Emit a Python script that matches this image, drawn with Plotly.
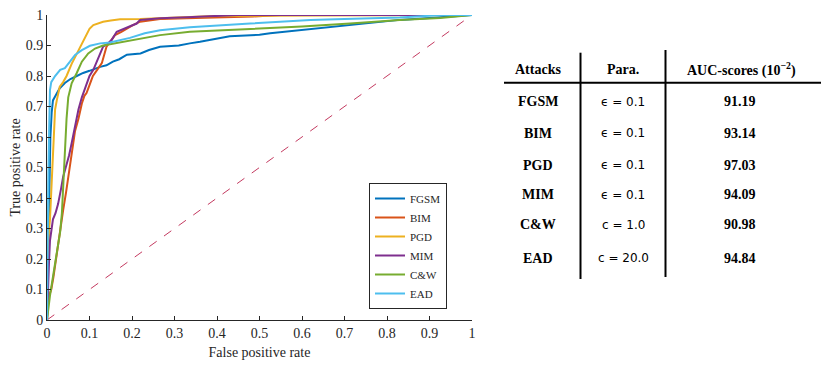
import plotly.graph_objects as go

W, H = 830, 367

names = ["FGSM", "BIM", "PGD", "MIM", "C&W", "EAD"]
colors = ["#0072BD", "#D95319", "#EDB120", "#7E2F8E", "#77AC30", "#4DBEEE"]

fgsm_fpr = [0, 0.002, 0.004, 0.006, 0.008, 0.011, 0.014, 0.02, 0.023, 0.03, 0.042, 0.055, 0.07, 0.085, 0.10,
            0.125, 0.14, 0.155, 0.17, 0.188, 0.22, 0.24, 0.266, 0.31, 0.336, 0.36, 0.43, 0.5, 0.525, 0.595,
            0.62, 0.69, 0.76, 0.83, 0.9, 0.97, 1.0]
fgsm_tpr = [0, 0.15, 0.35, 0.5, 0.6, 0.68, 0.72, 0.735, 0.744, 0.76, 0.777, 0.79, 0.80, 0.81, 0.817,
            0.83, 0.835, 0.847, 0.855, 0.87, 0.874, 0.885, 0.896, 0.90, 0.907, 0.912, 0.93, 0.935, 0.94, 0.95,
            0.956, 0.965, 0.975, 0.984, 0.99, 0.997, 1.0]

bim_fpr = [0, 0.002, 0.005, 0.01, 0.015, 0.02, 0.025, 0.03, 0.038, 0.045, 0.05, 0.058, 0.066, 0.074, 0.082,
           0.088, 0.093, 0.1, 0.108, 0.118, 0.129, 0.14, 0.15, 0.16, 0.175, 0.188, 0.2, 0.219, 0.24, 0.266,
           0.35, 0.485, 0.55, 1.0]
bim_tpr = [0, 0.05, 0.08, 0.1, 0.14, 0.19, 0.24, 0.29, 0.36, 0.42, 0.47, 0.547, 0.62, 0.66, 0.71,
           0.735, 0.744, 0.77, 0.80, 0.82, 0.842, 0.896, 0.915, 0.934, 0.945, 0.956, 0.965, 0.978, 0.983, 0.987,
           0.99, 0.995, 1.0, 1.0]

pgd_fpr = [0, 0.001, 0.003, 0.005, 0.007, 0.01, 0.013, 0.016, 0.019, 0.023, 0.03, 0.038, 0.046, 0.058,
           0.07, 0.082, 0.093, 0.1, 0.109, 0.12, 0.132, 0.15, 0.172, 0.219, 0.29, 0.4, 1.0]
pgd_tpr = [0, 0.15, 0.25, 0.3, 0.33, 0.42, 0.52, 0.61, 0.69, 0.72, 0.765, 0.78, 0.80, 0.84,
           0.874, 0.907, 0.94, 0.955, 0.967, 0.972, 0.978, 0.982, 0.986, 0.987, 0.99, 0.997, 1.0]

mim_fpr = [0, 0.002, 0.005, 0.007, 0.014, 0.020, 0.026, 0.033, 0.038, 0.046, 0.052, 0.058, 0.064, 0.07,
           0.074, 0.082, 0.093, 0.1, 0.109, 0.121, 0.132, 0.142, 0.152, 0.164, 0.184, 0.211, 0.219, 0.266,
           0.33, 0.42, 0.45, 1.0]
mim_tpr = [0, 0.1, 0.2, 0.26, 0.33, 0.35, 0.38, 0.43, 0.47, 0.51, 0.54, 0.58, 0.62, 0.667,
           0.69, 0.73, 0.776, 0.8, 0.82, 0.863, 0.896, 0.905, 0.918, 0.945, 0.956, 0.972, 0.984, 0.989,
           0.993, 0.998, 1.0, 1.0]

cw_fpr = [0, 0.002, 0.007, 0.015, 0.023, 0.031, 0.035, 0.038, 0.042, 0.046, 0.05, 0.058, 0.07, 0.082,
          0.097, 0.113, 0.132, 0.155, 0.18, 0.219, 0.266, 0.336, 0.407, 0.51, 0.6, 0.713, 0.83, 0.925, 1.0]
cw_tpr = [0, 0.03, 0.08, 0.15, 0.22, 0.29, 0.35, 0.45, 0.557, 0.66, 0.73, 0.776, 0.81, 0.847,
          0.874, 0.89, 0.90, 0.906, 0.912, 0.923, 0.934, 0.945, 0.95, 0.955, 0.962, 0.972, 0.984, 0.99, 1.0]

ead_fpr = [0, 0.001, 0.003, 0.005, 0.007, 0.01, 0.019, 0.031, 0.042, 0.054, 0.066, 0.082, 0.101, 0.125,
           0.148, 0.195, 0.23, 0.266, 0.336, 0.478, 0.548, 0.62, 0.7, 0.83, 0.93, 1.0]
ead_tpr = [0, 0.2, 0.45, 0.62, 0.754, 0.78, 0.80, 0.82, 0.826, 0.847, 0.869, 0.885, 0.899, 0.907,
           0.91, 0.925, 0.94, 0.95, 0.96, 0.972, 0.978, 0.984, 0.987, 0.992, 1.0, 1.0]

curves_fpr = [fgsm_fpr, bim_fpr, pgd_fpr, mim_fpr, cw_fpr, ead_fpr]
curves_tpr = [fgsm_tpr, bim_tpr, pgd_tpr, mim_tpr, cw_tpr, ead_tpr]

diag = [0, 1]
tick_vals = [0, 0.1, 0.2, 0.3, 0.4, 0.5, 0.6, 0.7, 0.8, 0.9, 1]
tick_text = ["0", "0.1", "0.2", "0.3", "0.4", "0.5", "0.6", "0.7", "0.8", "0.9", "1"]

# table contents
table_header = ["Attacks", "Para.", "AUC-scores (10<sup>\u22122</sup>)"]
table_attacks = ["FGSM", "BIM", "PGD", "MIM", "C&amp;W", "EAD"]
table_params = ["\u03f5 = 0.1", "\u03f5 = 0.1", "\u03f5 = 0.1", "\u03f5 = 0.1", "c = 1.0", "c = 20.0"]
table_auc = ["91.19", "93.14", "97.03", "94.09", "90.98", "94.84"]

SERIF = "Liberation Serif"
SANS = "DejaVu Sans"
AX = "#262626"

# page body has an 8px margin: lay out in window pixels shifted by it
OFF = 8
px = lambda v: (v - OFF) / W
py = lambda v: 1 - (v - OFF) / H

fig = go.Figure()
fig.add_trace(go.Scatter(x=diag, y=diag, mode="lines", showlegend=False,
                         line=dict(color="#C43A60", width=1, dash="dash"), hoverinfo="skip"))
for n, c, fx, ty in zip(names, colors, curves_fpr, curves_tpr):
    fig.add_trace(go.Scatter(x=fx, y=ty, mode="lines", name=n, line=dict(color=c, width=2)))

fig.update_layout(
    width=W, height=H,
    margin=dict(l=0, r=0, t=0, b=0),
    paper_bgcolor="white", plot_bgcolor="white",
    font=dict(family=SERIF, size=12, color=AX),
    xaxis=dict(domain=[px(47), px(472)], range=[0, 1], tickvals=tick_vals, ticktext=tick_text,
               ticks="inside", ticklen=4, tickcolor=AX, showline=True, linecolor=AX, linewidth=1,
               showgrid=False, zeroline=False, automargin=False, ticklabeloverflow="allow",
               tickfont=dict(family=SERIF, size=14, color=AX),
               title=dict(text="False positive rate", font=dict(family=SERIF, size=14, color=AX), standoff=7)),
    yaxis=dict(domain=[py(320), py(15)], range=[0, 1], tickvals=tick_vals, ticktext=tick_text,
               ticks="inside", ticklen=4, tickcolor=AX, showline=True, linecolor=AX, linewidth=1,
               showgrid=False, zeroline=False, automargin=False, ticklabeloverflow="allow",
               tickfont=dict(family=SERIF, size=14, color=AX),
               title=dict(text="True positive rate", font=dict(family=SERIF, size=14, color=AX), standoff=6)),
    legend=dict(x=px(369), y=py(246), xanchor="left", yanchor="middle",
                bgcolor="white", bordercolor=AX, borderwidth=1,
                font=dict(family=SERIF, size=11, color=AX), itemwidth=30,
                tracegroupgap=0),
    showlegend=True,
)

shapes = [
    dict(type="line", xref="paper", yref="paper", x0=px(504), x1=px(821), y0=py(82.7), y1=py(82.7),
         line=dict(color="black", width=2)),
    dict(type="line", xref="paper", yref="paper", x0=px(580.5), x1=px(580.5), y0=py(52.7), y1=py(279),
         line=dict(color="black", width=2)),
    dict(type="line", xref="paper", yref="paper", x0=px(665.5), x1=px(665.5), y0=py(50), y1=py(277),
         line=dict(color="black", width=2)),
]
fig.update_layout(shapes=shapes)

col_x = [538, 623, 741]
header_y = 69
row_y = [101.7, 133.3, 165, 194.5, 225, 258.3]
for cx, txt in zip(col_x, table_header):
    fig.add_annotation(x=px(cx), y=py(header_y), xref="paper", yref="paper", text=f"<b>{txt}</b>",
                       showarrow=False, xanchor="center", yanchor="middle",
                       font=dict(family=SERIF, size=14, color="black"))
for ry, a, p, v in zip(row_y, table_attacks, table_params, table_auc):
    fig.add_annotation(x=px(col_x[0]), y=py(ry), xref="paper", yref="paper", text=f"<b>{a}</b>",
                       showarrow=False, xanchor="center", yanchor="middle",
                       font=dict(family=SERIF, size=14, color="black"))
    fig.add_annotation(x=px(col_x[1]), y=py(ry), xref="paper", yref="paper", text=p,
                       showarrow=False, xanchor="center", yanchor="middle",
                       font=dict(family=SANS, size=12, color="black"))
    fig.add_annotation(x=px(740), y=py(ry), xref="paper", yref="paper", text=f"<b>{v}</b>",
                       showarrow=False, xanchor="center", yanchor="middle",
                       font=dict(family=SERIF, size=14, color="black"))

fig.write_html("out.html")
